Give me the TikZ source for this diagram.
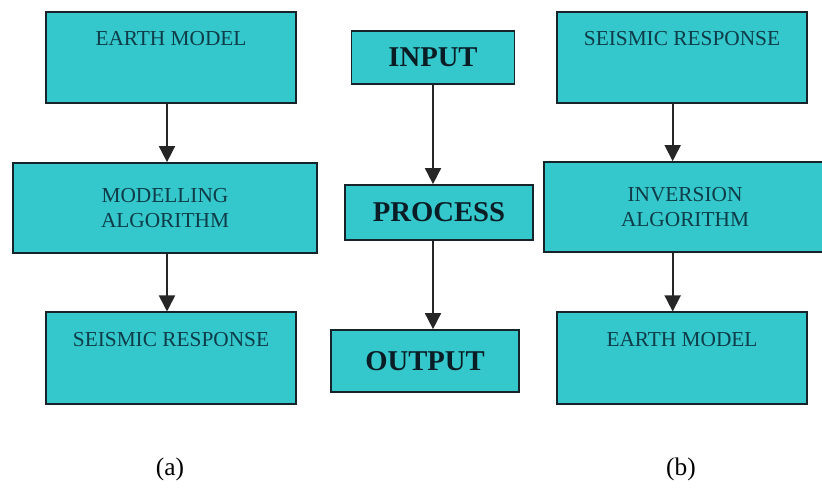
\documentclass[tikz,border=0pt]{standalone}
\usepackage{fontspec}
\setmainfont{Liberation Serif}
\usetikzlibrary{arrows.meta}

\definecolor{boxfill}{RGB}{52,200,204}
\definecolor{boxline}{RGB}{22,36,42}
\definecolor{sidetext}{RGB}{14,60,72}
\definecolor{midtext}{RGB}{10,28,36}

\tikzset{
	sidebox/.style = {draw = boxline, line width = 1.3pt, fill = boxfill, text = sidetext,
		minimum width = 187.5pt, inner ysep = 0pt, text height = 25.5pt, text depth = 43pt,
		font = \fontsize{16}{19}\selectfont},
	algobox/.style = {draw = boxline, line width = 1.3pt, fill = boxfill, text = sidetext,
		minimum height = 67.5pt, align = center, font = \fontsize{16}{18.75}\selectfont},
	midbox/.style = {draw = boxline, line width = 1.3pt, fill = boxfill, text = midtext,
		font = \fontsize{21.5}{26}\selectfont\bfseries},
	arr/.style = {line width = 1.3pt, draw = black!85, -{Triangle[length = 12pt, width = 12pt]}},
	caption/.style = {font = \fontsize{19}{22}\selectfont}
}

\begin{document}
\begin{tikzpicture}[x = 0.75pt, y = -0.75pt]
\useasboundingbox (0,0) rectangle (822,497);

% (a) forward modelling
\node [sidebox] (earthA) at (171,57.5) {EARTH MODEL};
\node [algobox, minimum width = 228pt] (model) at (165,208) {MODELLING\\ALGORITHM};
\node [sidebox] (seisA) at (171,358) {SEISMIC RESPONSE};

% general scheme
\node [midbox, minimum width = 122.25pt, minimum height = 39.75pt] (input) at (433,57.5) {INPUT};
\node [midbox, minimum width = 141pt, minimum height = 41.25pt] (process) at (439,212.5) {PROCESS};
\node [midbox, minimum width = 141pt, minimum height = 46.5pt] (output) at (425,361) {OUTPUT};

% (b) inversion
\node [sidebox] (seisB) at (682,57.5) {SEISMIC RESPONSE};
\node [algobox, minimum width = 211.5pt] (invert) at (685,207) {INVERSION\\ALGORITHM};
\node [sidebox] (earthB) at (682,358) {EARTH MODEL};

\draw [arr] ([xshift = -3pt]earthA.south) -- ([xshift = -3pt]earthA.south |- model.north);
\draw [arr] ([xshift = -3pt]earthA.south |- model.south) -- ([xshift = -3pt]earthA.south |- seisA.north);

\draw [arr] (input.south) -- (input.south |- process.north);
\draw [arr] (input.south |- process.south) -- (input.south |- output.north);

\draw [arr] ([xshift = -7pt]seisB.south) -- ([xshift = -7pt]seisB.south |- invert.north);
\draw [arr] ([xshift = -7pt]seisB.south |- invert.south) -- ([xshift = -7pt]seisB.south |- earthB.north);

\node [caption] (capA) at (170,469) {(a)};
\node [caption] (capB) at (681,469) {(b)};

\end{tikzpicture}
\end{document}
